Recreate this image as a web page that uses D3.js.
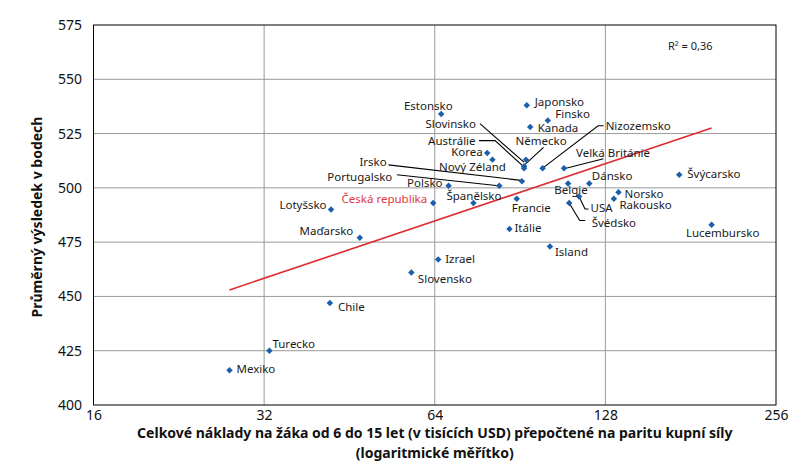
<!DOCTYPE html>
<html>
<head>
<meta charset="utf-8">
<script src="https://cdn.jsdelivr.net/npm/d3@7"></script>
<style>
  body { margin: 0; background: #fff; }
  text { font-family: "Noto Sans", "Open Sans", sans-serif; }
</style>
</head>
<body>
<div id="chart"></div>
<script>
// countries, spending per pupil 6-15 (thousand USD, PPP), mean score
const countries = ['Mexiko', 'Turecko', 'Chile', 'Lotyšsko', 'Maďarsko', 'Slovensko', 'Česká republika',
  'Izrael', 'Estonsko', 'Polsko', 'Španělsko', 'Korea', 'Nový Zéland', 'Portugalsko', 'Itálie', 'Francie',
  'Irsko', 'Austrálie', 'Německo', 'Slovinsko', 'Japonsko', 'Kanada', 'Nizozemsko', 'Finsko', 'Island',
  'Velká Británie', 'Belgie', 'Švédsko', 'USA', 'Dánsko', 'Rakousko', 'Norsko', 'Švýcarsko', 'Lucembursko']
const spending = [27.8, 32.7, 41.8, 42.0, 47.2, 58.2, 63.6, 64.9, 65.7, 67.7, 74.9, 79.2, 80.9, 83.2, 86.7,
  89.3, 91.2, 92.0, 92.0, 92.7, 93.0, 94.3, 99.2, 101.3, 102.2, 108.2, 110.0, 110.5, 115.0, 119.9, 132.5,
  135.0, 172.8, 197.1]
const score = [416, 425, 447, 490, 477, 461, 493, 467, 534, 501, 493, 516, 513, 501, 481, 495, 503, 510,
  509, 513, 538, 528, 509, 531, 473, 509, 502, 493, 496, 502, 495, 498, 506, 483]

// trend line end points
const trendX = [27.8, 197.1]
const trendY = [453, 527.6]

const xTicks = [16, 32, 64, 128, 256]
const yTicks = [400, 425, 450, 475, 500, 525, 550, 575]
const rSquared = 'R² = 0,36'
const xTitle = ['Celkové náklady na žáka od 6 do 15 let (v tisících USD) přepočtené na paritu kupní síly',
  '(logaritmické měřítko)']
const yTitle = 'Průměrný výsledek v bodech'
const highlight = 'Česká republika'

// label placement: anchor, dx, dy relative to the marker; optional leader line
const labelPos = {
  'Mexiko': ['start', 7, 3],
  'Turecko': ['start', 3, -3],
  'Chile': ['start', 8, 8.5],
  'Lotyšsko': ['end', -4.5, -0.5],
  'Maďarsko': ['end', -6.5, -2.5],
  'Slovensko': ['start', 6.5, 10],
  'Česká republika': ['end', -6, -0.5],
  'Izrael': ['start', 7, 3],
  'Estonsko': ['end', 11.5, -4],
  'Polsko': ['end', -6, 1.5],
  'Španělsko': ['middle', 0.5, -3.5],
  'Korea': ['end', -4.5, 2.5],
  'Nový Zéland': ['middle', -20, 11],
  'Portugalsko': ['end', -107, -5, [[-102.5, -11], [-1, 0]]],
  'Itálie': ['start', 5, 2.5],
  'Francie': ['start', -5, 13],
  'Irsko': ['start', -162.5, -15.5, [[-133.5, -16.5], [-1, -1]]],
  'Austrálie': ['end', -48.5, -21, [[-45, -25.5], [-29, -25.5], [-1, 0]]],
  'Německo': ['middle', 17, -23.5, [[19.5, -21], [1, -4]]],
  'Slovinsko': ['end', -50, -32, [[-46, -36], [-2, 2.5]]],
  'Japonsko': ['start', 8, 0.5],
  'Kanada': ['start', 7.5, 5],
  'Nizozemsko': ['start', 63, -38, [[61, -42.5], [55.5, -42.5], [1, -1]]],
  'Finsko': ['start', 7.5, -2.5],
  'Island': ['start', 5, 10],
  'Velká Británie': ['start', 12, -11.5, [[39.5, -9.5], [2, 0]]],
  'Belgie': ['middle', 3, 10.5],
  'Švédsko': ['start', 22.5, 24, [[0, 0], [10.5, 17.5], [16, 17.5]]],
  'USA': ['start', 11.5, 15.5, [[0, 0], [6, 12.5], [9.5, 12.5]]],
  'Dánsko': ['start', 2.5, -3.5],
  'Rakousko': ['start', 5.5, 10.5],
  'Norsko': ['start', 6, 5.5],
  'Švýcarsko': ['start', 8, 3.5],
  'Lucembursko': ['middle', 11, 12.5]
}

const dms = {
  width: 810,
  height: 476,
  margin: { top: 25, right: 34, bottom: 71, left: 93.5 }
}
dms.contentWidth = dms.width - dms.margin.left - dms.margin.right
dms.contentHeight = dms.height - dms.margin.top - dms.margin.bottom

const points = countries.map((c, i) => ({ name: c, x: spending[i], y: score[i] }))

const svg = d3.select('#chart').append('svg')
    .attr('width', dms.width)
    .attr('height', dms.height)

const content = svg.append('g')
    .attr('transform', `translate(${dms.margin.left},${dms.margin.top})`)

const xScale = d3.scaleLog()
    .base(2)
    .domain([16, 256])
    .range([0, dms.contentWidth])

const yScale = d3.scaleLinear()
    .domain([400, 575])
    .range([dms.contentHeight, 0])

// grid
content.append('g')
    .selectAll('line')
    .data(yTicks.slice(1, -1))
    .join('line')
    .attr('x1', 0)
    .attr('x2', dms.contentWidth)
    .attr('y1', d => yScale(d))
    .attr('y2', d => yScale(d))
    .style('stroke', '#9a9a9a')

content.append('g')
    .selectAll('line')
    .data(xTicks.slice(1, -1))
    .join('line')
    .attr('x1', d => xScale(d))
    .attr('x2', d => xScale(d))
    .attr('y1', 0)
    .attr('y2', dms.contentHeight)
    .style('stroke', '#9a9a9a')

content.append('rect')
    .attr('width', dms.contentWidth)
    .attr('height', dms.contentHeight)
    .style('fill', 'none')
    .style('stroke', '#000')

// axes
const yAxis = content.append('g')
    .call(d3.axisLeft(yScale).tickValues(yTicks).tickSize(0).tickPadding(11.5))
yAxis.select('.domain').remove()
yAxis.selectAll('text')
    .style('font-family', '"Noto Sans", sans-serif')
    .style('font-size', '14px')
    .style('fill', '#111')

const xAxis = content.append('g')
    .attr('transform', `translate(0,${dms.contentHeight})`)
    .call(d3.axisBottom(xScale).tickValues(xTicks).tickFormat(d3.format('d')).tickSize(0).tickPadding(5))
xAxis.select('.domain').remove()
xAxis.selectAll('text')
    .style('font-family', '"Noto Sans", sans-serif')
    .style('font-size', '14px')
    .style('fill', '#111')

// trend line
content.append('line')
    .attr('x1', xScale(trendX[0]))
    .attr('y1', yScale(trendY[0]))
    .attr('x2', xScale(trendX[1]))
    .attr('y2', yScale(trendY[1]))
    .style('stroke', '#df2a2f')
    .style('stroke-width', 1.6)

// leader lines
const leaders = content.append('g')
points.filter(d => labelPos[d.name][3]).forEach(d => {
  const px = xScale(d.x), py = yScale(d.y)
  leaders.append('path')
      .attr('d', d3.line()(labelPos[d.name][3].map(p => [px + p[0], py + p[1]])))
      .style('fill', 'none')
      .style('stroke', '#000')
      .style('stroke-width', 1.1)
})

// markers
content.append('g')
    .selectAll('path')
    .data(points)
    .join('path')
    .attr('d', d3.symbol(d3.symbolSquare, 21))
    .attr('transform', d => `translate(${xScale(d.x)},${yScale(d.y)}) rotate(45)`)
    .style('fill', '#1b5fab')

// labels
content.append('g')
    .selectAll('text')
    .data(points)
    .join('text')
    .attr('x', d => xScale(d.x) + labelPos[d.name][1])
    .attr('y', d => yScale(d.y) + labelPos[d.name][2])
    .attr('text-anchor', d => labelPos[d.name][0])
    .style('font-size', '11.5px')
    .style('fill', d => d.name === highlight ? '#e0393e' : '#1a1a1a')
    .text(d => d.name)

content.append('text')
    .attr('x', 668 - dms.margin.left)
    .attr('y', 50 - dms.margin.top)
    .style('font-size', '11px')
    .style('fill', '#1a1a1a')
    .text(rSquared)

// titles
svg.append('g')
    .selectAll('text')
    .data(xTitle)
    .join('text')
    .attr('x', dms.margin.left + dms.contentWidth / 2)
    .attr('y', (d, i) => 438 + i * 20)
    .attr('text-anchor', 'middle')
    .style('font-size', '14px')
    .style('font-weight', 'bold')
    .style('fill', '#111')
    .text(d => d)

svg.append('text')
    .attr('transform', `translate(41.5,${dms.margin.top + dms.contentHeight / 2 + 2}) rotate(-90)`)
    .attr('text-anchor', 'middle')
    .style('font-size', '14px')
    .style('font-weight', 'bold')
    .style('fill', '#111')
    .text(yTitle)
</script>
</body>
</html>
